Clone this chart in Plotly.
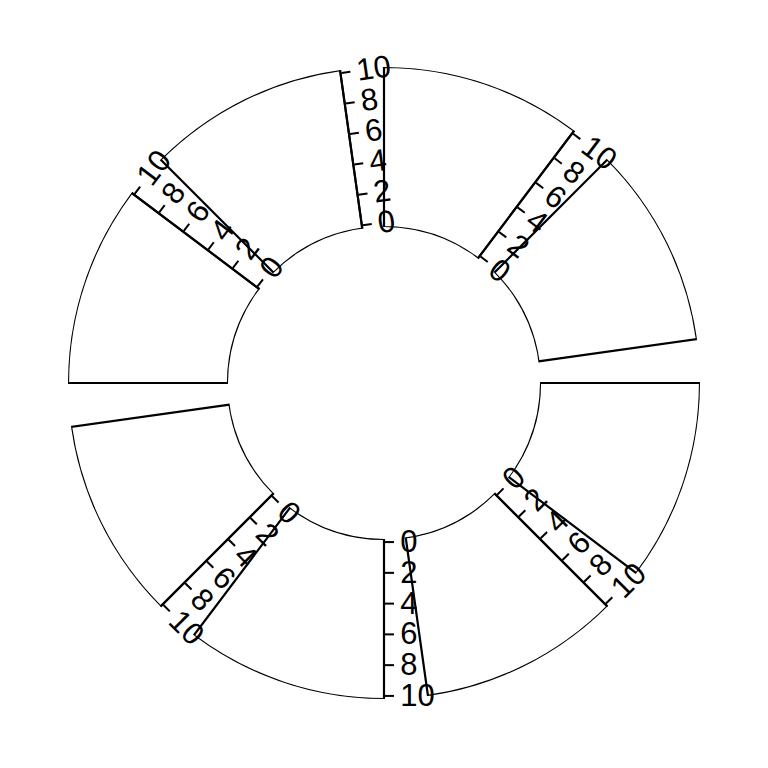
import plotly.graph_objects as go

# ---- data ----
sector_names = ["a", "b", "c", "d", "e", "f", "g", "h"]
ylim = [0, 10]
ytick_vals = [0, 2, 4, 6, 8, 10]
ytick_labels = ["0", "2", "4", "6", "8", "10"]
# which side of each sector carries a y-axis ("start" = first edge going clockwise, "end" = last edge)
axis_side = {"a": None, "b": "start", "c": "start", "d": "start",
             "e": "end", "f": "end", "g": "end", "h": None}

# ---- layout parameters ----
start_degree = 360.0
gap_deg = 8.0
sector_deg = (360.0 - gap_deg * len(sector_names)) / len(sector_names)
cell_pad = 0.02 * (ylim[1] - ylim[0])
inner_r, outer_r = 156.0, 316.0
W = H = 768
page_margin = 8.0           # default body margin of the html page
cx, cy = 384.0 - page_margin, 383.0 - page_margin

dom_x = [(cx - outer_r) / W, (cx + outer_r) / W]
dom_y = [(H - cy - outer_r) / H, (H - cy + outer_r) / H]

font = dict(family="Liberation Sans, Arial, sans-serif", size=31, color="black")
lw = 2.0

fig = go.Figure()
layout = dict(width=W, height=H, margin=dict(l=0, r=0, t=0, b=0),
              paper_bgcolor="white", plot_bgcolor="white",
              showlegend=False, template="none")


def polar_cfg(radial_extra):
    radial = dict(range=[ylim[0] - cell_pad, ylim[1] + cell_pad],
                  showgrid=False, showline=False, ticks="", showticklabels=False,
                  visible=False)
    radial.update(radial_extra)
    return dict(domain=dict(x=dom_x, y=dom_y), hole=inner_r / outer_r,
                bgcolor="rgba(0,0,0,0)",
                angularaxis=dict(visible=False, showgrid=False, showline=False,
                                 direction="counterclockwise", rotation=0),
                radialaxis=radial)


layout["polar"] = polar_cfg({})
sub_idx = 1
for i, name in enumerate(sector_names):
    s_start = start_degree - i * (sector_deg + gap_deg)
    s_end = s_start - sector_deg
    center = (s_start + s_end) / 2.0
    side = axis_side[name]
    if side is None:
        subplot = "polar"
    else:
        sub_idx += 1
        subplot = "polar%d" % sub_idx
        if side == "start":
            ang, tside, tang = s_start % 360, "counterclockwise", -90
        else:
            ang, tside, tang = s_end % 360, "clockwise", 90
        layout[subplot] = polar_cfg(dict(
            visible=True, angle=ang, side=tside, tickangle=tang,
            showline=True, linecolor="black", linewidth=lw,
            ticks="outside", ticklen=9, tickwidth=lw, tickcolor="black",
            tickvals=ytick_vals, ticktext=ytick_labels, showticklabels=True,
            tickfont=font))
    fig.add_trace(go.Barpolar(
        r=[(ylim[1] - ylim[0]) + 2 * cell_pad], base=[ylim[0] - cell_pad],
        theta=[center], width=[sector_deg],
        marker=dict(color="rgba(0,0,0,0)", line=dict(color="black", width=2.2)),
        subplot=subplot, hoverinfo="skip"))

fig.update_layout(**layout)
fig.write_html("out.html")
